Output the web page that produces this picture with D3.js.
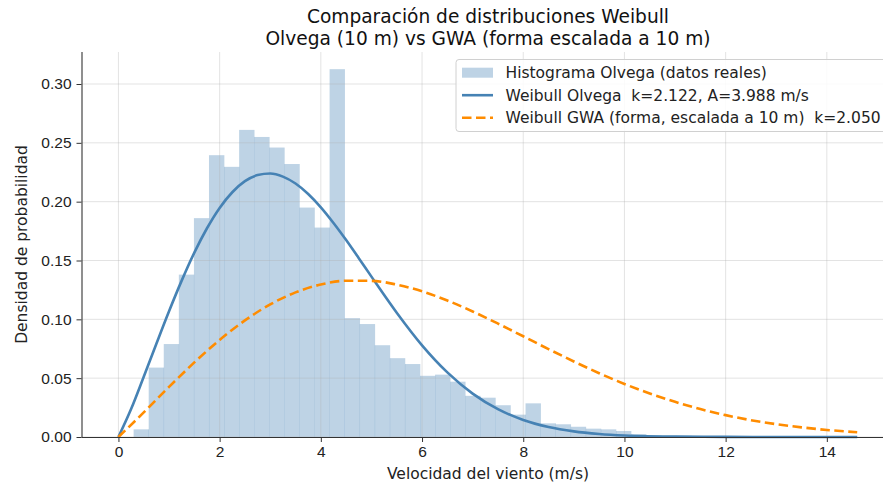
<!DOCTYPE html>
<meta charset="utf-8">
<style>
body { margin: 0; background: #fff; }
svg { font-family: "DejaVu Sans", sans-serif; }
.axis path, .axis line { stroke: #333; }
.axis text { font-size: 15.5px; fill: #222; }
.grid line { stroke: #b0b0b0; stroke-opacity: 0.35; }
</style>
<svg width="883" height="483"></svg>
<script src="https://cdn.jsdelivr.net/npm/d3@7/dist/d3.min.js"></script>
<script>

// histograma (densidad), 48 bins desde 0.3 m/s
var binStart = 0.3,
    binWidth = 0.2979;
var histDensity = [
  0.0065, 0.059, 0.079, 0.138, 0.186, 0.2395, 0.2296, 0.261, 0.255, 0.246,
  0.232, 0.195, 0.178, 0.3126, 0.101, 0.096, 0.078, 0.067, 0.062, 0.052,
  0.053, 0.047, 0.035, 0.0334, 0.027, 0.019, 0.0286, 0.0116, 0.0108, 0.0087,
  0.0071, 0.0065, 0.0051, 0.0025, 0.0015, 0.001, 0.001, 0.0005, 0.0005, 0.0003,
  0.0003, 0.0003, 0, 0, 0, 0, 0, 0.0003
];

// Weibull Olvega  k=2.122, A=3.988
var olvegaX = [0, 0.25, 0.5, 0.75, 1, 1.25, 1.5, 1.75, 2, 2.25, 2.5, 2.75, 3, 3.25, 3.5, 3.75, 4,
  4.25, 4.5, 4.75, 5, 5.5, 6, 6.5, 7, 7.5, 8, 8.5, 9, 9.5, 10, 11, 12, 13, 14.6];
var olvegaY = [0, 0.0237, 0.0512, 0.0793, 0.1069, 0.1329, 0.1567, 0.1774, 0.1947, 0.2080, 0.2174,
  0.2226, 0.2239, 0.2213, 0.2154, 0.2065, 0.1952, 0.1819, 0.1674, 0.1520, 0.1363, 0.1056, 0.0779,
  0.0549, 0.0369, 0.0237, 0.0145, 0.0085, 0.0048, 0.0026, 0.0013, 0.0003, 0.0001, 0, 0];

// Weibull GWA (forma, escalada a 10 m)  k=2.050
var gwaX = [0, 0.5, 1, 1.5, 2, 2.5, 3, 3.5, 4, 4.5, 5, 5.5, 6, 6.5, 7, 7.5, 8, 8.5, 9, 9.5, 10,
  10.5, 11, 11.5, 12, 12.5, 13, 13.5, 14, 14.6];
var gwaY = [0, 0.0209, 0.0426, 0.0634, 0.0825, 0.0991, 0.1127, 0.1229, 0.1296, 0.1328, 0.1327,
  0.1295, 0.1238, 0.1160, 0.1067, 0.0964, 0.0856, 0.0747, 0.0642, 0.0542, 0.0451, 0.0370, 0.0299,
  0.0237, 0.0186, 0.0143, 0.0109, 0.0082, 0.0060, 0.0041];

var xTicks = [0, 2, 4, 6, 8, 10, 12, 14];
var yTicks = [0, 0.05, 0.10, 0.15, 0.20, 0.25, 0.30];

var legendLabels = [
  "Histograma Olvega (datos reales)",
  "Weibull Olvega  k=2.122, A=3.988 m/s",
  "Weibull GWA (forma, escalada a 10 m)  k=2.050"
];

var svg = d3.select("svg");

var plotLeft = 81.5, plotTop = 52, plotBottom = 437;

var x = d3.scaleLinear().domain([-0.73, 15.33]).range([plotLeft, plotLeft + 16.06 * 50.6]);
var y = d3.scaleLinear().domain([0, 0.3272]).range([plotBottom, plotTop]);

var blue = "#4682b4", orange = "#ff8c00";

// barras
svg.append("g")
    .selectAll("rect")
    .data(histDensity)
    .enter().append("rect")
    .attr("x", function(d, i) { return x(binStart + i * binWidth); })
    .attr("width", function(d, i) { return x(binStart + (i + 1) * binWidth) - x(binStart + i * binWidth) + 0.3; })
    .attr("y", function(d) { return y(d); })
    .attr("height", function(d) { return y(0) - y(d); })
    .attr("fill", "steelblue")
    .attr("fill-opacity", 0.35);

// rejilla
var grid = svg.append("g").attr("class", "grid");
grid.selectAll("line.v").data(xTicks).enter().append("line")
    .attr("class", "v")
    .attr("x1", function(d) { return x(d); }).attr("x2", function(d) { return x(d); })
    .attr("y1", plotTop).attr("y2", plotBottom);
grid.selectAll("line.h").data(yTicks).enter().append("line")
    .attr("class", "h")
    .attr("x1", plotLeft).attr("x2", 883)
    .attr("y1", function(d) { return y(d); }).attr("y2", function(d) { return y(d); });

// curvas
var line = d3.line()
    .x(function(d) { return x(d[0]); })
    .y(function(d) { return y(d[1]); })
    .curve(d3.curveMonotoneX);

svg.append("path")
    .datum(d3.zip(olvegaX, olvegaY))
    .attr("d", line)
    .attr("fill", "none")
    .attr("stroke", blue)
    .attr("stroke-width", 2.6);

svg.append("path")
    .datum(d3.zip(gwaX, gwaY))
    .attr("d", line)
    .attr("fill", "none")
    .attr("stroke", orange)
    .attr("stroke-width", 2.6)
    .attr("stroke-dasharray", "9.5,4.5");

// ejes
var xAxis = svg.append("g")
    .attr("class", "axis")
    .attr("transform", "translate(0," + plotBottom + ")")
    .call(d3.axisBottom(x).tickValues(xTicks).tickSize(5).tickPadding(4).tickSizeOuter(0));
xAxis.select(".domain").attr("d", "M" + plotLeft + ",0.5H883");

var yAxis = svg.append("g")
    .attr("class", "axis")
    .attr("transform", "translate(" + plotLeft + ",0)")
    .call(d3.axisLeft(y).tickValues(yTicks).tickFormat(d3.format(".2f")).tickSize(5).tickPadding(5).tickSizeOuter(0));
yAxis.select(".domain").attr("d", "M0.5," + plotTop + "V" + plotBottom);

svg.selectAll(".axis .domain").attr("stroke-width", 1.1);

svg.append("text")
    .attr("x", 488).attr("y", 479)
    .attr("text-anchor", "middle")
    .style("font-size", "15.5px").attr("fill", "#222")
    .text("Velocidad del viento (m/s)");

svg.append("text")
    .attr("transform", "translate(27," + ((plotTop + plotBottom) / 2) + ") rotate(-90)")
    .attr("text-anchor", "middle")
    .style("font-size", "15.5px").attr("fill", "#222")
    .text("Densidad de probabilidad");

// título
svg.append("text")
    .attr("x", 488).attr("y", 23)
    .attr("text-anchor", "middle")
    .style("font-size", "18.6px").attr("fill", "#111")
    .text("Comparación de distribuciones Weibull");
svg.append("text")
    .attr("x", 488).attr("y", 45)
    .attr("text-anchor", "middle")
    .style("font-size", "18.6px").attr("fill", "#111")
    .text("Olvega (10 m) vs GWA (forma escalada a 10 m)");

// leyenda
var legend = svg.append("g");
legend.append("rect")
    .attr("x", 456).attr("y", 59.5)
    .attr("width", 440).attr("height", 72)
    .attr("rx", 3)
    .attr("fill", "#fff").attr("fill-opacity", 0.85)
    .attr("stroke", "#d0d0d0");

var rowY = [72.7, 95.2, 117.7];
legend.append("rect")
    .attr("x", 462).attr("y", rowY[0] - 5)
    .attr("width", 31).attr("height", 10)
    .attr("fill", "steelblue").attr("fill-opacity", 0.35);
legend.append("line")
    .attr("x1", 462).attr("x2", 493).attr("y1", rowY[1]).attr("y2", rowY[1])
    .attr("stroke", blue).attr("stroke-width", 2.6);
legend.append("line")
    .attr("x1", 462).attr("x2", 493).attr("y1", rowY[2]).attr("y2", rowY[2])
    .attr("stroke", orange).attr("stroke-width", 2.6).attr("stroke-dasharray", "9.5,4.5");

legend.selectAll("text.lab")
    .data(legendLabels)
    .enter().append("text")
    .attr("class", "lab")
    .attr("x", 505.5)
    .attr("y", function(d, i) { return rowY[i]; })
    .attr("dy", "0.36em")
    .style("font-size", "15.5px").attr("fill", "#222")
    .style("white-space", "pre")
    .attr("xml:space", "preserve")
    .text(function(d) { return d; });

</script>
